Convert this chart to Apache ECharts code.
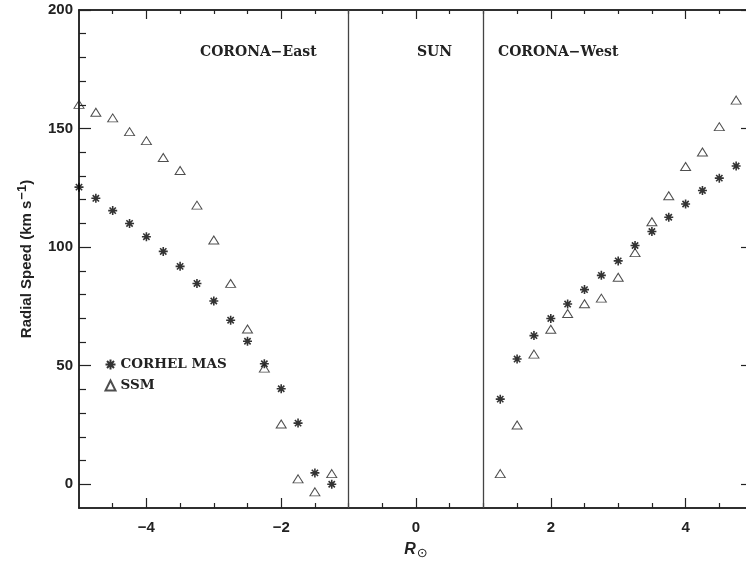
<!DOCTYPE html>
<head>
    <meta charset="utf-8">
    <title>Radial Speed</title>
    <script src="https://cdn.jsdelivr.net/npm/echarts@6/dist/echarts.min.js"></script>
    <style>
        body { margin: 0; background: #fff; }
        #main { width: 746px; height: 562px; }
    </style>
</head>
<body>
<div id="main"></div>
<script type="text/javascript">
    // distances (solar radii), east side and west side
    var xEast = [-5, -4.75, -4.5, -4.25, -4, -3.75, -3.5, -3.25, -3, -2.75, -2.5, -2.25, -2, -1.75, -1.5, -1.25];
    var xWest = [1.25, 1.5, 1.75, 2, 2.25, 2.5, 2.75, 3, 3.25, 3.5, 3.75, 4, 4.25, 4.5, 4.75];

    // radial speed (km/s)
    var masEast = [125.3, 120.6, 115.4, 110.0, 104.4, 98.2, 91.9, 84.7, 77.3, 69.2, 60.3, 50.8, 40.3, 25.8, 4.8, 0];
    var ssmEast = [160.2, 156.9, 154.5, 148.7, 144.9, 137.8, 132.3, 117.7, 103.0, 84.7, 65.5, 49.0, 25.4, 2.3, -3.2, 4.5];
    var masWest = [35.9, 52.8, 62.7, 69.9, 76.0, 82.1, 88.1, 94.2, 100.7, 106.6, 112.6, 118.2, 123.9, 129.1, 134.2];
    var ssmWest = [4.5, 25.0, 54.9, 65.4, 72.0, 76.1, 78.5, 87.3, 97.7, 110.7, 121.7, 134.0, 140.1, 150.8, 162.0];

    // ticks
    var xMajor = [-4, -2, 0, 2, 4];
    var xMinor = [-4.5, -3.5, -3, -2.5, -1.5, -1, -0.5, 0.5, 1, 1.5, 2.5, 3, 3.5, 4.5];
    var yMajor = [0, 50, 100, 150, 200];
    var yMinor = [10, 20, 30, 40, 60, 70, 80, 90, 110, 120, 130, 140, 160, 170, 180, 190];
    var limbs = [-1, 1];

    var ink = '#222';
    var sansBold = {fontFamily: 'Liberation Sans', fontWeight: 'bold', fontSize: 15, color: ink};
    var serifText = {fontFamily: 'DejaVu Serif', fontWeight: 'bold', fontSize: 14, fill: ink};

    // asterisk drawn as strokes
    var asterisk = 'path://M0,5L10,5M5,0L5,10M1.5,1.5L8.5,8.5M8.5,1.5L1.5,8.5';

    function pairs(xs, ys) {
        return xs.map(function (x, i) { return [x, ys[i]]; });
    }

    function negFmt(v) {
        return v < 0 ? '\u2212' + (-v) : String(v);
    }

    function xAxisOf(pos, ticks, len, labels) {
        return {
            type: 'value', position: pos, min: -5, max: 5,
            axisLine: {show: true, onZero: false, lineStyle: {color: ink, width: 1.5}},
            axisTick: {show: true, inside: true, length: len, customValues: ticks, lineStyle: {color: ink, width: 1.2}},
            axisLabel: labels ? {show: true, customValues: ticks, margin: 12, formatter: negFmt,
                fontFamily: 'Liberation Sans', fontWeight: 'bold', fontSize: 15, color: ink} : {show: false},
            splitLine: {show: false}
        };
    }

    function yAxisOf(pos, ticks, len, labels) {
        return {
            type: 'value', position: pos, min: -10, max: 200,
            axisLine: {show: true, onZero: false, lineStyle: {color: ink, width: 1.5}},
            axisTick: {show: true, inside: true, length: len, customValues: ticks, lineStyle: {color: ink, width: 1.2}},
            axisLabel: labels ? {show: true, customValues: ticks, margin: 6,
                fontFamily: 'Liberation Sans', fontWeight: 'bold', fontSize: 15, color: ink} : {show: false},
            splitLine: {show: false}
        };
    }

    var myChart = echarts.init(document.getElementById('main'));

    var xs = [
        xAxisOf('bottom', xMajor, 10, true),
        xAxisOf('bottom', xMinor, 5, false),
        xAxisOf('top', xMajor, 9, false),
        xAxisOf('top', xMinor, 4, false)
    ];
    xs[0].name = '{r|R}{s|\u2299}';
    xs[0].nameLocation = 'middle';
    xs[0].nameGap = 31;
    xs[0].nameTextStyle = {
        rich: {
            r: {fontFamily: 'Liberation Sans', fontStyle: 'italic', fontWeight: 'bold', fontSize: 16, color: ink},
            s: {fontFamily: 'DejaVu Sans', fontSize: 13, color: ink, padding: [8, 0, 0, 1]}
        }
    };

    var ys = [
        yAxisOf('left', yMajor, 12, true),
        yAxisOf('left', yMinor, 7, false),
        yAxisOf('right', yMajor, 12, false),
        yAxisOf('right', yMinor, 7, false)
    ];
    ys[0].name = '{t|Radial Speed (km s}{p|\u22121}{t|)}';
    ys[0].nameLocation = 'middle';
    ys[0].nameGap = 41;
    ys[0].nameTextStyle = {
        rich: {
            t: sansBold,
            p: {fontFamily: 'Liberation Sans', fontWeight: 'bold', fontSize: 13, color: ink, padding: [0, 0, 9, 1]}
        }
    };

    var masStyle = {color: 'none', borderColor: '#000', borderWidth: 1.6};
    var ssmStyle = {color: 'none', borderColor: ink, borderWidth: 1};

    var option = {
        backgroundColor: '#fff',
        animation: false,
        grid: {left: 79, top: 10, width: 674, height: 498, containLabel: false, outerBoundsMode: 'none'},
        xAxis: xs,
        yAxis: ys,
        legend: {
            orient: 'vertical', left: 98, top: 352, itemGap: 6,
            itemWidth: 10, itemHeight: 10,
            data: ['CORHEL MAS', 'SSM'],
            textStyle: {fontFamily: 'DejaVu Serif', fontWeight: 'bold', fontSize: 13.5, color: ink}
        },
        series: [
            {name: 'CORHEL MAS', type: 'scatter', symbol: asterisk, symbolSize: 9,
                itemStyle: masStyle, data: pairs(xEast, masEast),
                markLine: {
                    silent: true, symbol: 'none', label: {show: false},
                    lineStyle: {color: '#444', width: 1.3, type: 'solid'},
                    data: limbs.map(function (v) { return {xAxis: v}; })
                }},
            {name: 'CORHEL MAS', type: 'scatter', symbol: asterisk, symbolSize: 9,
                itemStyle: masStyle, data: pairs(xWest, masWest)},
            {name: 'SSM', type: 'scatter', symbol: 'triangle', symbolSize: [10, 8],
                itemStyle: ssmStyle, data: pairs(xEast, ssmEast)},
            {name: 'SSM', type: 'scatter', symbol: 'triangle', symbolSize: [10, 8],
                itemStyle: ssmStyle, data: pairs(xWest, ssmWest)}
        ],
        graphic: [
            {type: 'text', left: 200, top: 45, style: Object.assign({text: 'CORONA\u2212East'}, serifText)},
            {type: 'text', left: 417, top: 45, style: Object.assign({text: 'SUN'}, serifText)},
            {type: 'text', left: 498, top: 45, style: Object.assign({text: 'CORONA\u2212West'}, serifText)}
        ]
    };

    myChart.setOption(option);
</script>
</body>
